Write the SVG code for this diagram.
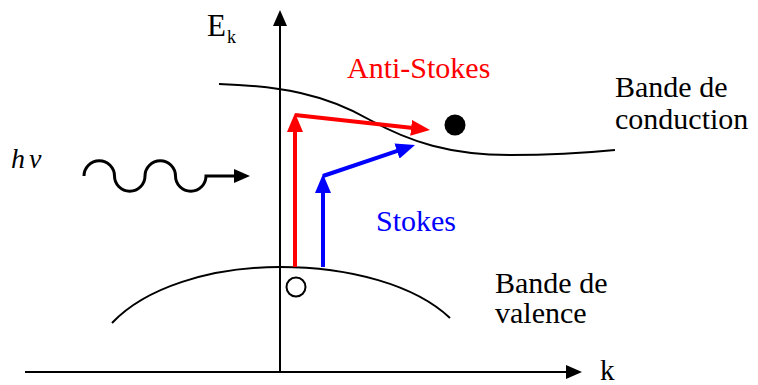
<svg xmlns="http://www.w3.org/2000/svg" width="758" height="385" viewBox="0 0 758 385">
  <style>
    .ax { stroke: #000; stroke-width: 2; fill: none; }
    .band { stroke: #000; stroke-width: 2; fill: none; }
    .red { stroke: #FF0000; stroke-width: 4; fill: none; }
    .blue { stroke: #0000FF; stroke-width: 4; fill: none; }
    text { font-family: 'Liberation Serif', 'Times New Roman', serif; font-size: 30px; fill: #000; }
  </style>
  <defs>
    <marker id="hk" markerUnits="userSpaceOnUse" markerWidth="16" markerHeight="14" refX="2" refY="7" orient="auto" viewBox="0 0 16 14">
      <path d="M0,0 L16,7 L0,14 z" fill="#000"/>
    </marker>
    <marker id="hr" markerUnits="userSpaceOnUse" markerWidth="19" markerHeight="16" refX="2" refY="8" orient="auto" viewBox="0 0 19 16">
      <path d="M0,0 L19,8 L0,16 z" fill="#FF0000"/>
    </marker>
    <marker id="hb" markerUnits="userSpaceOnUse" markerWidth="19" markerHeight="16" refX="2" refY="8" orient="auto" viewBox="0 0 19 16">
      <path d="M0,0 L19,8 L0,16 z" fill="#0000FF"/>
    </marker>
  </defs>

  <g id="axes">
    <line class="ax" x1="280" y1="373" x2="280" y2="24" marker-end="url(#hk)"/>
    <line class="ax" x1="25" y1="372" x2="568" y2="372" marker-end="url(#hk)"/>
    <text x="207" y="36" style="font-size:31px">E</text>
    <text x="227" y="43" style="font-size:18px">k</text>
    <text x="600" y="380" style="font-size:29px">k</text>
  </g>

  <g id="conduction-band">
    <path class="band" d="M219,84 C280,86 325,94 370,120 C410,142 450,155 510,155 C560,155 595,152 615,150"/>
    <text x="615" y="97">Bande de</text>
    <text x="615" y="129">conduction</text>
  </g>

  <g id="valence-band">
    <path class="band" d="M112,323 C145,288 210,267 280,267 C350,267 415,285 450,318"/>
    <text x="495" y="293">Bande de</text>
    <text x="495" y="323">valence</text>
  </g>

  <g id="photon">
    <text x="11" y="168" style="font-style:italic;font-size:28px">h<tspan dx="4">ν</tspan></text>
    <path class="ax" style="stroke-width:3" d="M84,176 A15.25,15.25 0 0 1 114.5,176 A15.25,15.25 0 0 0 145,176 A15.25,15.25 0 0 1 175.5,176 A15.25,15.25 0 0 0 206,176 L236,176" marker-end="url(#hk)"/>
  </g>

  <g id="electron">
    <circle cx="455" cy="125" r="10.5" fill="#000"/>
  </g>

  <g id="hole">
    <circle cx="296" cy="287" r="9.5" fill="none" stroke="#000" stroke-width="2"/>
  </g>

  <g id="connectors">
    <line class="red" x1="295" y1="267" x2="295" y2="130" marker-end="url(#hr)"/>
    <line class="red" x1="295" y1="115" x2="413.1" y2="128.1" marker-end="url(#hr)"/>
    <line class="blue" x1="323" y1="267" x2="323" y2="191" marker-end="url(#hb)"/>
    <line class="blue" x1="323" y1="176" x2="398.9" y2="150.4" marker-end="url(#hb)"/>
  </g>

  <g id="labels">
    <text x="347" y="78" style="fill:#FF0000">Anti-Stokes</text>
    <text x="376" y="231" style="fill:#0000FF">Stokes</text>
  </g>
</svg>
